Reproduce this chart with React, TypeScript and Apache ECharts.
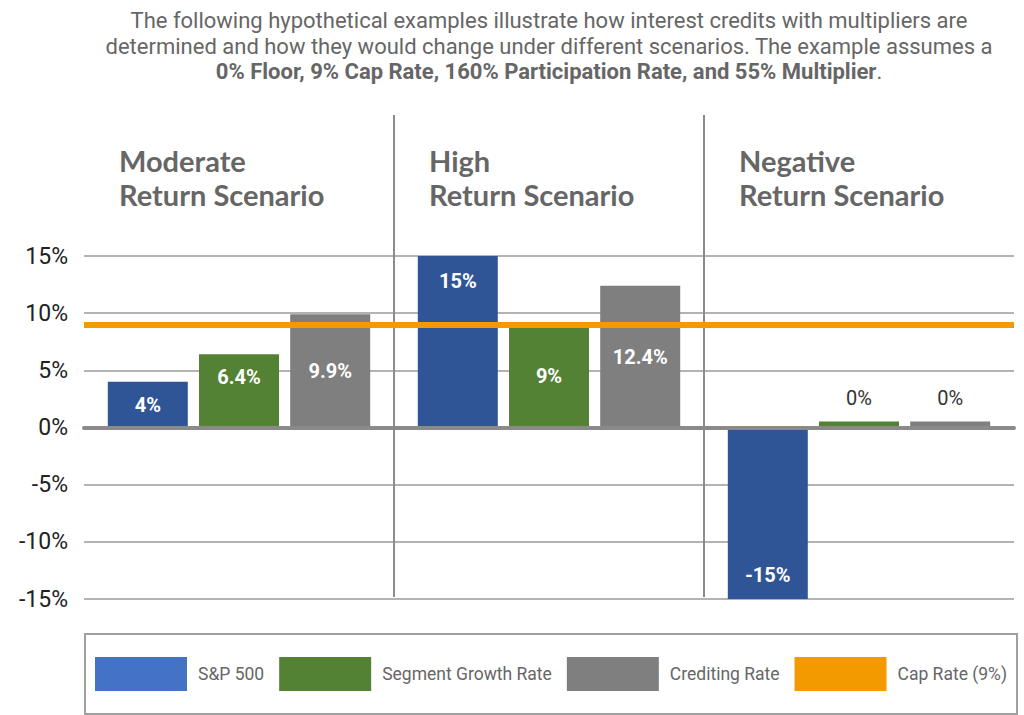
import React, { useEffect, useRef } from "react";
import * as echarts from "echarts";

const categories = ["Moderate\nReturn Scenario", "High\nReturn Scenario", "Negative\nReturn Scenario"];
const sp500 = [4, 15, -15];
const segmentGrowth = [6.4, 9, 0];
const creditingRate = [9.9, 12.4, 0];
const capRate = 9;
const yMin = -15;
const yMax = 15;
const yStep = 5;
const seriesNames = ["S&P 500", "Segment Growth Rate", "Crediting Rate", "Cap Rate (9%)"];
const introLine1 = "The following hypothetical examples illustrate how interest credits with multipliers are";
const introLine2 = "determined and how they would change under different scenarios. The example assumes a";
const introBold = "0% Floor, 9% Cap Rate, 160% Participation Rate, and 55% Multiplier";

const W = 1024;
const H = 715;
const GRID = { left: 84, right: 10, top: 256, bottom: 116 };
const BAR_COLORS = ["#2F5597", "#548235", "#7F7F7F"];
const LEGEND_COLORS = ["#4472C4", "#548235", "#7F7F7F", "#F39A00"];
const CAP_COLOR = "#F39A00";

// label vertical nudges (px) keyed by series index and category index
const labelNudge: Record<string, number> = { "0-1": -61, "0-2": 62, "1-0": -14 };

function buildBarData(values: number[], si: number) {
  return values.map((v, ci) => {
    if (v === 0) {
      return {
        value: v,
        label: {
          show: true,
          position: "top",
          distance: 14,
          formatter: "{c}%",
          color: "#333",
          fontWeight: "normal",
          fontSize: 20,
          fontFamily: "Roboto",
        },
      };
    }
    return {
      value: v,
      label: {
        show: true,
        position: "inside",
        formatter: "{c}%",
        offset: [0, labelNudge[`${si}-${ci}`] || 0],
        color: "#fff",
        fontWeight: "bold",
        fontSize: 20,
        fontFamily: "Roboto",
      },
    };
  });
}

export default function App() {
  const ref = useRef<HTMLDivElement>(null);
  useEffect(() => {
    if (!ref.current) return;
    const chart = echarts.init(ref.current, undefined, { renderer: "svg" });
    const plotW = W - GRID.left - GRID.right;
    const catW = plotW / categories.length;
    const graphics: any[] = [];
    graphics.push({
      type: "text",
      x: 549,
      y: 7.5,
      style: {
        text: `{n|${introLine1}}\n{n|${introLine2}}\n{b|${introBold}}{n|.}`,
        align: "center",
        verticalAlign: "top",
        rich: {
          n: { fontSize: 22, fontFamily: "Roboto", fill: "#666", lineHeight: 25.7 },
          b: { fontSize: 22, fontFamily: "Roboto", fontWeight: "bold", fill: "#666", lineHeight: 25.7 },
        },
      },
    });
    categories.forEach((c, i) => {
      graphics.push({
        type: "text",
        x: GRID.left + i * catW + 35,
        y: 143,
        style: {
          text: c,
          fill: "#666",
          fontSize: 29,
          fontWeight: "bold",
          fontFamily: "Lato",
          lineHeight: 34,
          verticalAlign: "top",
          align: "left",
        },
      });
      if (i > 0) {
        const x = GRID.left + i * catW;
        graphics.push({
          type: "line",
          shape: { x1: x, y1: 115, x2: x, y2: 597 },
          style: { stroke: "#8c8c8c", lineWidth: 2 },
          z: 1,
        });
      }
    });
    graphics.push({
      type: "rect",
      shape: { x: 85, y: 634, width: 932, height: 80 },
      style: { fill: "none", stroke: "#a0a0a0", lineWidth: 2 },
    });

    chart.setOption({
      animation: false,
      backgroundColor: "#fff",
      textStyle: { fontFamily: "Roboto" },
      grid: { ...GRID, containLabel: false },
      legend: {
        left: 90,
        top: 652,
        itemWidth: 92,
        itemHeight: 34,
        itemGap: 15,
        icon: "rect",
        selectedMode: false,
        textStyle: { fontSize: 17.5, color: "#666", fontFamily: "Roboto", padding: [0, 0, 0, 6] },
        data: seriesNames.map((n, i) => ({ name: n, icon: "rect", itemStyle: { color: LEGEND_COLORS[i] } })),
      },
      xAxis: {
        type: "category",
        data: categories,
        axisLabel: { show: false },
        axisTick: { show: false },
        splitLine: { show: false },
        axisLine: { show: true, onZero: true, lineStyle: { color: "#8a8a8a", width: 4 } },
        z: 5,
      },
      yAxis: {
        type: "value",
        min: yMin,
        max: yMax,
        interval: yStep,
        axisLabel: { formatter: "{value}%", fontSize: 23, color: "#222", fontFamily: "Roboto", margin: 16 },
        axisLine: { show: false },
        axisTick: { show: false },
        splitLine: { lineStyle: { color: "#9a9a9a", width: 1.5 } },
      },
      graphic: graphics,
      series: [
        { name: seriesNames[0], type: "bar", data: buildBarData(sp500, 0), barWidth: 80, barGap: "14%", barMinHeight: 6, itemStyle: { color: BAR_COLORS[0] } },
        { name: seriesNames[1], type: "bar", data: buildBarData(segmentGrowth, 1), barWidth: 80, barGap: "14%", barMinHeight: 6, itemStyle: { color: BAR_COLORS[1] } },
        { name: seriesNames[2], type: "bar", data: buildBarData(creditingRate, 2), barWidth: 80, barGap: "14%", barMinHeight: 6, itemStyle: { color: BAR_COLORS[2] } },
        {
          name: seriesNames[3],
          type: "line",
          data: [],
          itemStyle: { color: CAP_COLOR },
          lineStyle: { color: CAP_COLOR },
          z: 6,
          markLine: {
            silent: true,
            symbol: "none",
            label: { show: false },
            lineStyle: { color: CAP_COLOR, width: 6, type: "solid" },
            data: [{ yAxis: capRate }],
          },
        },
      ],
    });
    return () => chart.dispose();
  }, []);
  return <div ref={ref} style={{ position: "fixed", left: 0, top: 0, width: W, height: H }} />;
}
